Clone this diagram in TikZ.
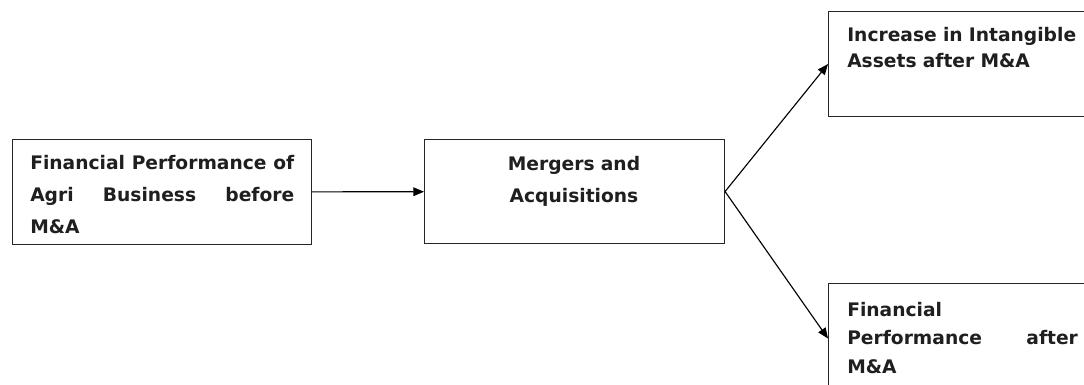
\documentclass[tikz,border=0pt]{standalone}
\usepackage{fontspec}
\setmainfont{DejaVu Sans}
\usetikzlibrary{arrows.meta}
\tikzset{
  box/.style={draw=black!85, line width=0.8pt, anchor=north west, inner sep=0pt},
  label/.style={inner sep=0pt, text=black!88, font=\bfseries\fontsize{14pt}{24pt}\selectfont},
  arr/.style={draw=black, line width=0.85pt, -{Triangle[length=8pt,width=6.5pt]}}
}
\begin{document}
\begin{tikzpicture}[x=0.75pt,y=-0.75pt]
\useasboundingbox (0,0) rectangle (1084,385);
\clip (0,0) rectangle (1084,385);
\fill[white] (0,0) rectangle (1084,385);

% boxes
\node[box, minimum width=224.25pt, minimum height=78.75pt] (b1) at (12,139) {};
\node[box, minimum width=225pt, minimum height=78pt] (b2) at (424,139) {};
\node[box, minimum width=200pt, minimum height=78.75pt] (b3) at (828,11) {};
\node[box, minimum width=200pt, minimum height=82.5pt] (b4) at (828,283) {};

% box texts
\node[label, anchor=base west, text width=198pt, align=justify] (t1) at (30,169)
  {Financial Performance of\linebreak Agri Business before\linebreak M\&A};
\node[label, anchor=base, text width=200pt, align=center] (t2) at (574,170)
  {Mergers and\\Acquisitions};
\node[label, anchor=base west, text width=180pt, align=left,
      font=\bfseries\fontsize{14pt}{19.5pt}\selectfont] (t3) at (847,42)
  {Increase in Intangible\\Assets after M\&A};
\node[label, anchor=base west, text width=173pt, align=justify,
      font=\bfseries\fontsize{14pt}{21.5pt}\selectfont] (t4) at (847,316)
  {Financial\\ Performance after\linebreak M\&A};

% connectors
\draw[arr] (b1) -- (b2);
\draw[arr] (b2.east) -- (b3.west);
\draw[arr] (b2.east) -- (b4.west);
\end{tikzpicture}
\end{document}
